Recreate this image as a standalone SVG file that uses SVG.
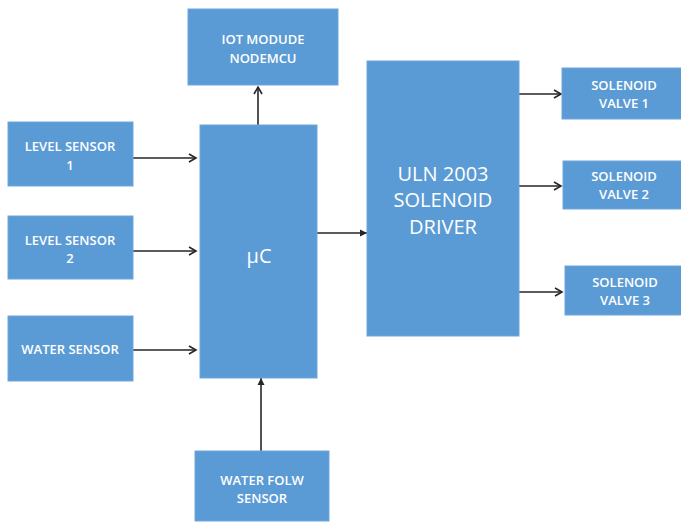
<svg xmlns="http://www.w3.org/2000/svg" width="681" height="522" viewBox="0 0 681 522">
<style>
.box{fill:#5b9bd5;stroke:#6fa6da;stroke-width:1}
.t{fill:#ffffff;font-family:"Open Sans","Liberation Sans",sans-serif;font-size:13px;font-weight:600;text-anchor:middle;dominant-baseline:central}
.tb{fill:#ffffff;font-family:"Open Sans","Liberation Sans",sans-serif;font-size:20px;text-anchor:middle;dominant-baseline:central}
.c{stroke:#262626;stroke-width:1.6;fill:none}
</style>
<defs>
<marker id="open" markerWidth="10" markerHeight="10" refX="8" refY="5" orient="auto" markerUnits="userSpaceOnUse">
<path d="M1,1 L8,5 L1,9" fill="none" stroke="#262626" stroke-width="1.6"/>
</marker>
<marker id="fill" markerWidth="8" markerHeight="8" refX="7" refY="4" orient="auto" markerUnits="userSpaceOnUse">
<path d="M0,0.5 L7,4 L0,7.5 Z" fill="#262626"/>
</marker>
</defs>
<rect width="681" height="522" fill="#ffffff"/>
<g id="connectors">
<line class="c" x1="133" y1="158" x2="196" y2="158" marker-end="url(#open)"/>
<line class="c" x1="133" y1="251" x2="196" y2="251" marker-end="url(#open)"/>
<line class="c" x1="133" y1="350" x2="196" y2="350" marker-end="url(#open)"/>
<line class="c" x1="258" y1="125" x2="258" y2="87" marker-end="url(#open)"/>
<line class="c" x1="261" y1="451" x2="261" y2="378" marker-end="url(#fill)"/>
<line class="c" x1="317" y1="233" x2="367" y2="233" marker-end="url(#fill)"/>
<line class="c" x1="519" y1="94" x2="561" y2="94" marker-end="url(#open)"/>
<line class="c" x1="519" y1="186" x2="561" y2="186" marker-end="url(#open)"/>
<line class="c" x1="519" y1="292" x2="562" y2="292" marker-end="url(#open)"/>
</g>
<g id="iot"><rect class="box" x="188" y="9" width="150" height="76"/><text class="t" x="263" y="39">IOT MODUDE</text><text class="t" x="263" y="58">NODEMCU</text></g>
<g id="uc"><rect class="box" x="200" y="125" width="117" height="253"/><text class="tb" x="259" y="255" font-size="22">µC</text></g>
<g id="ls1"><rect class="box" x="8" y="122" width="125" height="64"/><text class="t" x="70" y="146">LEVEL SENSOR</text><text class="t" x="70" y="165">1</text></g>
<g id="ls2"><rect class="box" x="8" y="216" width="125" height="63"/><text class="t" x="70" y="240">LEVEL SENSOR</text><text class="t" x="70" y="258">2</text></g>
<g id="ws"><rect class="box" x="8" y="316" width="125" height="65"/><text class="t" x="70" y="349">WATER SENSOR</text></g>
<g id="wfs"><rect class="box" x="195" y="451" width="134" height="70"/><text class="t" x="262" y="480">WATER FOLW</text><text class="t" x="262" y="498">SENSOR</text></g>
<g id="uln"><rect class="box" x="367" y="61" width="152" height="275"/><text class="tb" x="443" y="173">ULN 2003</text><text class="tb" x="443" y="199">SOLENOID</text><text class="tb" x="443" y="226">DRIVER</text></g>
<g id="sv1"><rect class="box" x="562" y="68" width="125" height="51"/><text class="t" x="624" y="85">SOLENOID</text><text class="t" x="624" y="103">VALVE 1</text></g>
<g id="sv2"><rect class="box" x="563" y="161" width="124" height="48"/><text class="t" x="624" y="176">SOLENOID</text><text class="t" x="624" y="194">VALVE 2</text></g>
<g id="sv3"><rect class="box" x="565" y="266" width="122" height="49"/><text class="t" x="625" y="282">SOLENOID</text><text class="t" x="625" y="300">VALVE 3</text></g>
</svg>
